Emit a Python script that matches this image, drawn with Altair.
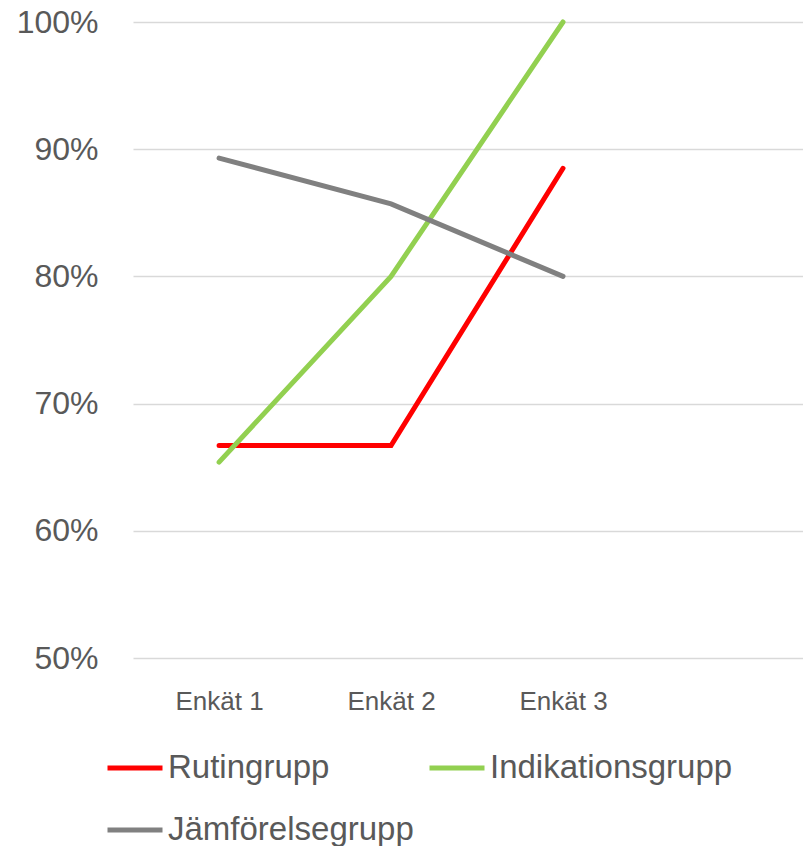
import altair as alt
import pandas as pd

categories = ["Enkät 1", "Enkät 2", "Enkät 3"]
series = ["Rutingrupp", "Indikationsgrupp", "Jämförelsegrupp"]
rutin = [0.667, 0.667, 0.885]
indik = [0.654, 0.800, 1.000]
jamf = [0.893, 0.857, 0.800]
colors = ["#FF0000", "#92D050", "#808080"]

rows = []
for i, (name, vals) in enumerate(zip(series, [rutin, indik, jamf])):
    for c, v in zip(categories, vals):
        rows.append({"Enkät": c, "Grupp": name, "Andel": v, "order": i})
df = pd.DataFrame(rows)

FONT = "Liberation Sans"
TXT = "#595959"

chart = alt.Chart(df).mark_line(strokeWidth=5, strokeCap="round", strokeJoin="miter").encode(
    x=alt.X("Enkät:N", sort=categories,
            scale=alt.Scale(type="point", domain=categories, padding=0.948, align=0.264),
            axis=alt.Axis(title=None, labelAngle=0, domain=False, ticks=False, grid=False,
                          labelFontSize=26, labelFont=FONT, labelColor=TXT, labelPadding=30)),
    y=alt.Y("Andel:Q",
            scale=alt.Scale(domain=[0.5, 1.0], nice=False, zero=False),
            axis=alt.Axis(title=None, format=".0%", values=[0.5, 0.6, 0.7, 0.8, 0.9, 1.0],
                          domain=False, ticks=False, gridColor="#d9d9d9", gridWidth=1.5,
                          labelFontSize=32, labelFont=FONT, labelColor=TXT, labelPadding=35)),
    color=alt.Color("Grupp:N", sort=series,
                    scale=alt.Scale(domain=series, range=colors),
                    legend=alt.Legend(title=None, orient="none", legendX=-28, legendY=716,
                                      direction="horizontal", columns=2,
                                      symbolType="stroke", symbolSize=3025,
                                      symbolStrokeWidth=5, labelFontSize=33, labelFont=FONT,
                                      labelColor=TXT, labelOffset=3, columnPadding=5,
                                      rowPadding=15, labelLimit=400)),
    order=alt.Order("order:Q"),
).properties(
    width=670, height=636,
    autosize=alt.AutoSizeParams(type="none"),
    padding={"left": 125, "top": 14, "right": 0, "bottom": 188},
).configure_view(stroke=None)

chart.save("out.html", embed_options={"renderer": "svg", "actions": False})
